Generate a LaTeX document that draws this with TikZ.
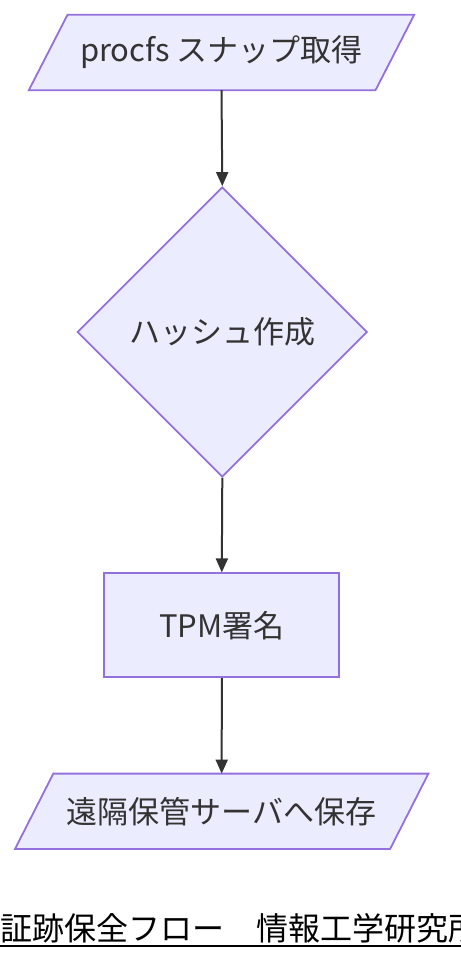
\documentclass[tikz,border=0pt]{standalone}
\usepackage{fontspec}
\setmainfont{Noto Sans CJK JP}
\usetikzlibrary{shapes.geometric,arrows.meta,backgrounds,calc}
\definecolor{nodefill}{HTML}{ECECFF}
\definecolor{nodeline}{HTML}{9370DB}
\definecolor{txt}{HTML}{333333}
\tikzset{
  base/.style={text=txt,font=\fontsize{31}{36}\selectfont,inner sep=0pt},
  parabox/.style={base,draw=none,minimum height=75pt},
  parashape/.style={fill=nodefill,draw=nodeline,line width=1.8pt,line join=miter},
  decbox/.style={base,shape=diamond,aspect=1,fill=nodefill,draw=nodeline,line width=1.8pt,minimum width=290pt,minimum height=290pt},
  procbox/.style={base,shape=rectangle,fill=nodefill,draw=nodeline,line width=1.8pt,minimum width=235pt,minimum height=104pt},
  flow/.style={draw=txt,line width=2pt,-{Triangle[width=12pt,length=14pt]}},
}
\begin{document}
\begin{tikzpicture}[x=1pt,y=-1pt]
\useasboundingbox (0,0) rectangle (460,960);
\node[parabox,minimum width=385pt] (snap) at (221.5,52.5) {procfs スナップ取得};
\node[decbox] (hash) at (222.3,332) {ハッシュ作成};
\node[procbox] (tpm) at (221.8,625.3) {TPM署名};
\node[parabox,minimum width=413pt] (store) at (221.7,811.3) {遠隔保管サーバへ保存};
\begin{scope}[on background layer]
\draw[parashape] ($(snap.north west)+(38.7,0)$) -- (snap.north east) -- ($(snap.south east)-(38.7,0)$) -- (snap.south west) -- cycle;
\draw[parashape] ($(store.north west)+(38.3,0)$) -- (store.north east) -- ($(store.south east)-(38.3,0)$) -- (store.south west) -- cycle;
\end{scope}
\draw[flow] (snap.south) -- (hash.north);
\draw[flow] (hash.south) -- (tpm.north);
\draw[flow] (tpm.south) -- (store.north);
\node[anchor=base west,inner sep=0pt,font=\fontsize{32}{36}\selectfont,text=black] (title) at (0,940) {証跡保全フロー　情報工学研究所};
\coordinate (ulend) at (470,946);
\draw[line width=2pt,black] (title.base west |- ulend) -- (ulend);
\end{tikzpicture}
\end{document}
